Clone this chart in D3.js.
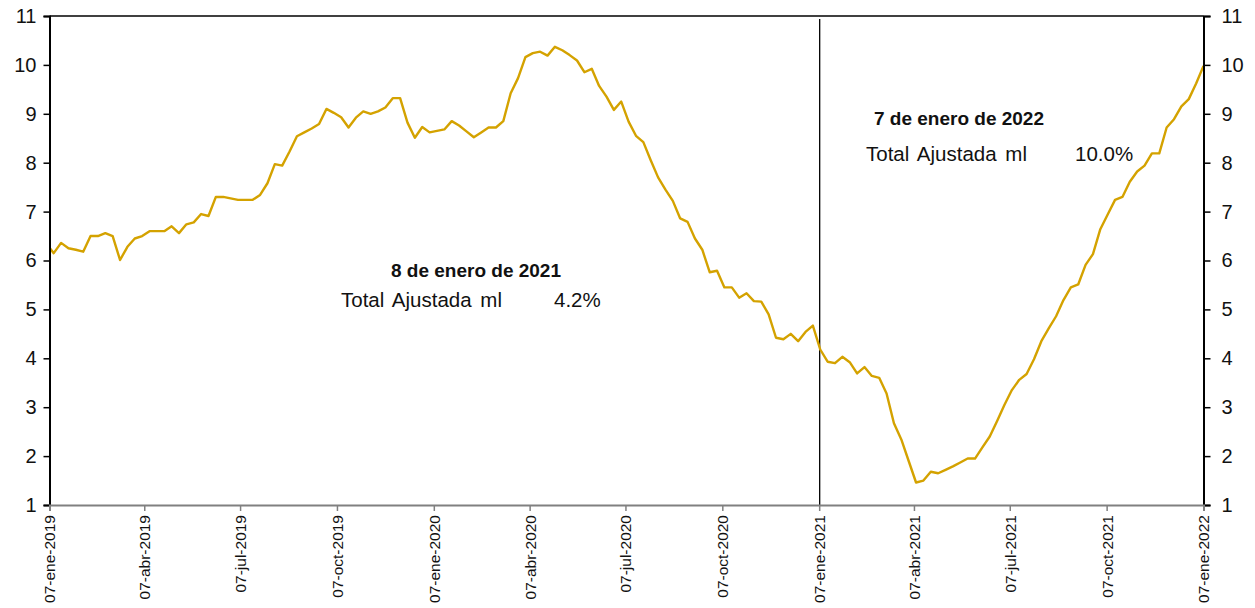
<!DOCTYPE html>
<html>
<head>
<meta charset="utf-8">
<script src="https://cdn.jsdelivr.net/npm/d3@7/dist/d3.min.js"></script>
<style>
  html, body { margin: 0; padding: 0; background: #fff; }
  svg { display: block; font-family: "Liberation Sans", Arial, sans-serif; }
</style>
</head>
<body>
<svg id="chart" width="1255" height="608"></svg>
<script>
// ---- data (weekly, Fridays starting 2019-01-04) ----
const startDate = "2019-01-04";
const values = [
  6.35, 6.15, 6.36, 6.25, 6.22, 6.18, 6.50, 6.50, 6.56, 6.50,
  6.01, 6.28, 6.45, 6.50, 6.60, 6.60, 6.60, 6.70, 6.56, 6.74,
  6.78, 6.95, 6.91, 7.30, 7.30, 7.27, 7.24, 7.24, 7.24, 7.34,
  7.58, 7.97, 7.94, 8.23, 8.54, 8.62, 8.70, 8.79, 9.10, 9.02,
  8.93, 8.72, 8.92, 9.05, 9.00, 9.05, 9.13, 9.32, 9.32, 8.82,
  8.51, 8.73, 8.62, 8.65, 8.68, 8.85, 8.76, 8.64, 8.52, 8.62,
  8.72, 8.72, 8.85, 9.42, 9.73, 10.16, 10.24, 10.27, 10.19, 10.37,
  10.30, 10.20, 10.09, 9.85, 9.92, 9.57, 9.35, 9.08, 9.25, 8.84,
  8.55, 8.42, 8.05, 7.70, 7.45, 7.22, 6.86, 6.79, 6.45, 6.22,
  5.76, 5.79, 5.45, 5.45, 5.24, 5.33, 5.17, 5.16, 4.90, 4.42,
  4.39, 4.50, 4.35, 4.54, 4.67, 4.18, 3.93, 3.90, 4.03, 3.92,
  3.69, 3.82, 3.64, 3.60, 3.28, 2.67, 2.34, 1.90, 1.46, 1.50,
  1.68, 1.65, 1.72, 1.79, 1.87, 1.95, 1.95, 2.18, 2.40, 2.72,
  3.05, 3.35, 3.56, 3.68, 3.98, 4.35, 4.61, 4.86, 5.19, 5.45,
  5.51, 5.91, 6.13, 6.64, 6.94, 7.24, 7.30, 7.61, 7.82, 7.94,
  8.19, 8.19, 8.72, 8.89, 9.15, 9.30, 9.62, 9.98
];
const xDomain = ["2019-01-07", "2022-01-07"];
const xTicks = [
  "2019-01-07", "2019-04-07", "2019-07-07", "2019-10-07",
  "2020-01-07", "2020-04-07", "2020-07-07", "2020-10-07",
  "2021-01-07", "2021-04-07", "2021-07-07", "2021-10-07",
  "2022-01-07"
];
const monthNames = ["ene", "feb", "mar", "abr", "may", "jun", "jul", "ago", "sep", "oct", "nov", "dic"];
const yTicks = [1, 2, 3, 4, 5, 6, 7, 8, 9, 10, 11];
const markerDate = "2021-01-07";
const notes = [
  { title: "8 de enero de 2021", label: "Total Ajustada ml", value: "4.2%" },
  { title: "7 de enero de 2022", label: "Total Ajustada ml", value: "10.0%" }
];

// ---- layout ----
const parse = d3.utcParse("%Y-%m-%d");
const svg = d3.select("#chart");
const L = 49.5, R = 1203.5, T = 16, B = 505;

const x = d3.scaleUtc().domain(xDomain.map(parse)).range([L, R]);
const y = d3.scaleLinear().domain([1, 11]).range([B, T]);

const start = parse(startDate);
const data = values.map((v, i) => ({ date: d3.utcDay.offset(start, 7 * i), value: v }));

svg.append("defs").append("clipPath").attr("id", "clip")
  .append("rect").attr("x", L).attr("y", T).attr("width", R - L).attr("height", B - T);

// top border
svg.append("line").attr("x1", L).attr("x2", R).attr("y1", T).attr("y2", T)
  .attr("stroke", "#000").attr("stroke-width", 1.5);

// marker vertical line
svg.append("line")
  .attr("x1", x(parse(markerDate)) + 0.5).attr("x2", x(parse(markerDate)) + 0.5)
  .attr("y1", 19).attr("y2", B)
  .attr("stroke", "#000").attr("stroke-width", 1.3);

// line
svg.append("path").datum(data)
  .attr("clip-path", "url(#clip)")
  .attr("fill", "none")
  .attr("stroke", "#d4a200")
  .attr("stroke-width", 2.4)
  .attr("stroke-linejoin", "round")
  .attr("d", d3.line().x(d => x(d.date)).y(d => y(d.value)));

// left axis
const gL = svg.append("g").attr("transform", `translate(${L},0)`)
  .call(d3.axisLeft(y).tickValues(yTicks).tickSize(6).tickPadding(7).tickFormat(d3.format("d")));
gL.select(".domain").attr("stroke", "#000").attr("stroke-width", 2);
gL.selectAll(".tick line").attr("stroke", "#000").attr("stroke-width", 1.5);
gL.selectAll(".tick text").attr("font-size", 20).attr("fill", "#111")
  .attr("font-family", "Liberation Sans, Arial, sans-serif");

// right axis
const gR = svg.append("g").attr("transform", `translate(${R},0)`)
  .call(d3.axisRight(y).tickValues(yTicks).tickSize(7).tickPadding(11).tickFormat(d3.format("d")));
gR.select(".domain").attr("stroke", "#000").attr("stroke-width", 2);
gR.selectAll(".tick line").attr("stroke", "#000").attr("stroke-width", 1.5);
gR.selectAll(".tick text").attr("font-size", 20).attr("fill", "#111")
  .attr("font-family", "Liberation Sans, Arial, sans-serif");

// bottom axis
const fmt = d => `${String(d.getUTCDate()).padStart(2, "0")}-${monthNames[d.getUTCMonth()]}-${d.getUTCFullYear()}`;
const gB = svg.append("g").attr("transform", `translate(0,${B})`)
  .call(d3.axisBottom(x).tickValues(xTicks.map(parse)).tickSize(6).tickFormat(fmt));
gB.select(".domain").attr("stroke", "#808080").attr("stroke-width", 2);
gB.selectAll(".tick line").attr("stroke", "#808080").attr("stroke-width", 1.5);
gB.selectAll(".tick text")
  .attr("font-size", 15.5).attr("fill", "#111")
  .attr("font-family", "Liberation Sans, Arial, sans-serif")
  .attr("text-anchor", "end")
  .attr("transform", "rotate(-90)")
  .attr("x", -10).attr("y", 0).attr("dy", "0.35em");

// annotations
const ann = svg.append("g").attr("font-family", "Liberation Sans, Arial, sans-serif").attr("fill", "#111");
const pos = [
  { tx: 476, ty: 277, lx: 341, ly: 307, vx: 554 },
  { tx: 959, ty: 125, lx: 866, ly: 161, vx: 1075 }
];
notes.forEach((n, i) => {
  const p = pos[i];
  ann.append("text").attr("x", p.tx).attr("y", p.ty).attr("text-anchor", "middle")
    .attr("font-weight", "bold").attr("font-size", 19).text(n.title);
  ann.append("text").attr("x", p.lx).attr("y", p.ly).attr("font-size", 20.5)
    .attr("word-spacing", 3).text(n.label);
  ann.append("text").attr("x", p.vx).attr("y", p.ly).attr("font-size", 20.5).text(n.value);
});
</script>
</body>
</html>
